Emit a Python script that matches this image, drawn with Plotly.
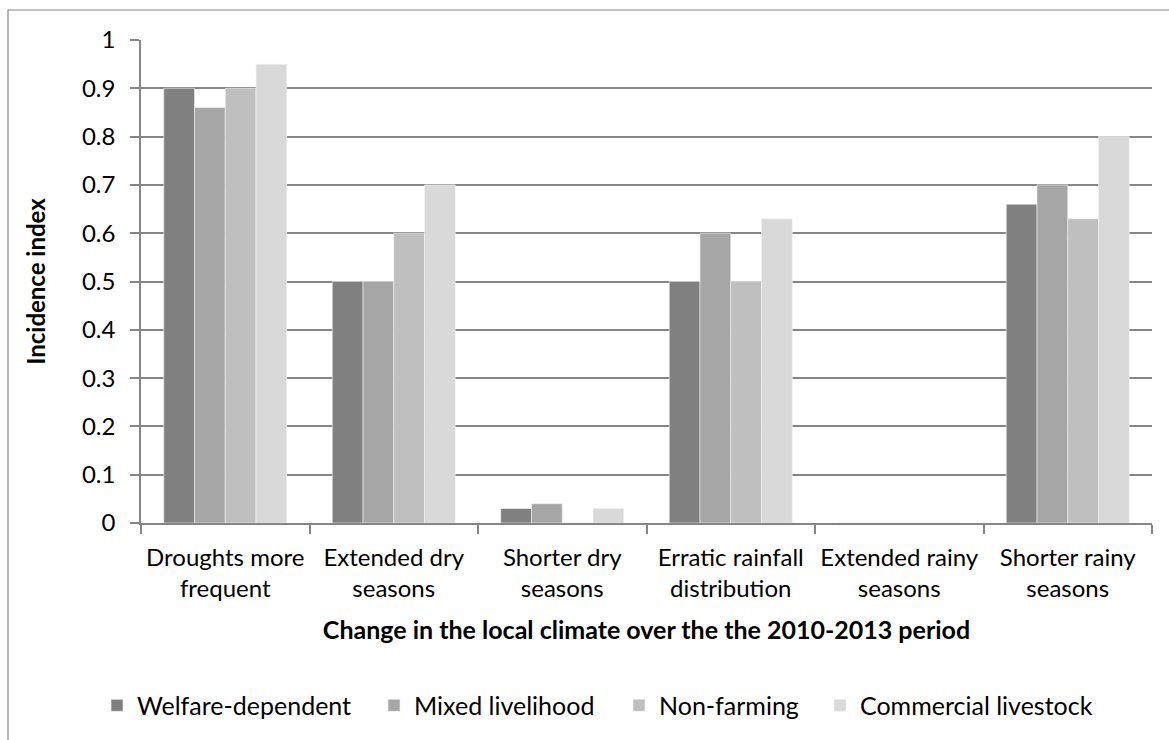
import plotly.graph_objects as go

# Climate-change categories (x axis), with the wrapped labels shown under each group
categories = [
    "Droughts more frequent",
    "Extended dry seasons",
    "Shorter dry seasons",
    "Erratic rainfall distribution",
    "Extended rainy seasons",
    "Shorter rainy seasons",
]
category_labels = [
    "Droughts more<br>frequent",
    "Extended dry<br>seasons",
    "Shorter dry<br>seasons",
    "Erratic rainfall<br>distribution",
    "Extended rainy<br>seasons",
    "Shorter rainy<br>seasons",
]

# Incidence index per livelihood group
welfare_dependent = [0.90, 0.50, 0.03, 0.50, 0.0, 0.66]
mixed_livelihood = [0.86, 0.50, 0.04, 0.60, 0.0, 0.70]
non_farming = [0.90, 0.60, 0.0, 0.50, 0.0, 0.63]
commercial_livestock = [0.95, 0.70, 0.03, 0.63, 0.0, 0.80]

y_ticks = [0, 0.1, 0.2, 0.3, 0.4, 0.5, 0.6, 0.7, 0.8, 0.9, 1]
y_ticktext = ["0", "0.1", "0.2", "0.3", "0.4", "0.5", "0.6", "0.7", "0.8", "0.9", "1"]

series = [
    ("Welfare-dependent", welfare_dependent, "#808080"),
    ("Mixed livelihood", mixed_livelihood, "#a6a6a6"),
    ("Non-farming", non_farming, "#bfbfbf"),
    ("Commercial livestock", commercial_livestock, "#d9d9d9"),
]

FONT = "Lato, 'Open Sans', sans-serif"
GRID = "#868686"
FS = 24

# Each series gets its own one-item legend so the entries can be spread along the row
legend_ids = ["legend", "legend2", "legend3", "legend4"]
legend_x = [-0.0435, 0.2305, 0.4728, 0.6716]

fig = go.Figure()
for (name, vals, color), lid in zip(series, legend_ids):
    fig.add_trace(go.Bar(
        x=categories, y=vals, name=name, legend=lid,
        marker=dict(color=color, line=dict(color="#f4f4f4", width=0.6)),
    ))

legend_layout = {
    lid: dict(
        orientation="h", x=lx, xanchor="left", y=-0.378, yanchor="middle",
        font=dict(family=FONT, size=25, color="black"),
        itemwidth=30, bgcolor="rgba(0,0,0,0)",
    )
    for lid, lx in zip(legend_ids, legend_x)
}

fig.update_layout(
    width=1169, height=740,
    margin=dict(l=141, r=17, t=40, b=217, autoexpand=False),
    paper_bgcolor="white", plot_bgcolor="white",
    barmode="group", bargap=0.27, bargroupgap=0,
    font=dict(family=FONT, size=FS, color="black"),
    showlegend=True,
    xaxis=dict(
        type="category", tickmode="array", tickvals=categories, ticktext=category_labels,
        tickson="boundaries", ticks="outside", ticklen=9, tickcolor=GRID, tickwidth=1.5,
        showline=True, linecolor=GRID, linewidth=1.5,
        showgrid=False, automargin=False, ticklabelstandoff=12,
        tickfont=dict(family=FONT, size=FS, color="black"),
        title=dict(text="<b>Change in the local climate over the the 2010-2013 period</b>",
                   font=dict(family=FONT, size=25, color="black"), standoff=21),
    ),
    yaxis=dict(
        range=[0, 1], tickmode="array", tickvals=y_ticks, ticktext=y_ticktext,
        ticks="outside", ticklen=9, tickcolor=GRID, tickwidth=1.5,
        showline=True, linecolor=GRID, linewidth=1.5,
        showgrid=True, gridcolor=GRID, gridwidth=1.5, zeroline=False,
        automargin=False, ticklabelstandoff=10,
        tickfont=dict(family=FONT, size=FS, color="black"),
        title=dict(text="<b>Incidence index</b>",
                   font=dict(family=FONT, size=FS, color="black"), standoff=30),
    ),
    shapes=[dict(
        type="rect", xref="paper", yref="paper",
        x0=(8 - 141) / 1011, x1=2, y0=-2, y1=(523 - 10) / 483,
        line=dict(color=GRID, width=1.2), fillcolor="rgba(0,0,0,0)", layer="below",
    )],
    **legend_layout,
)

fig.write_html("out.html")
